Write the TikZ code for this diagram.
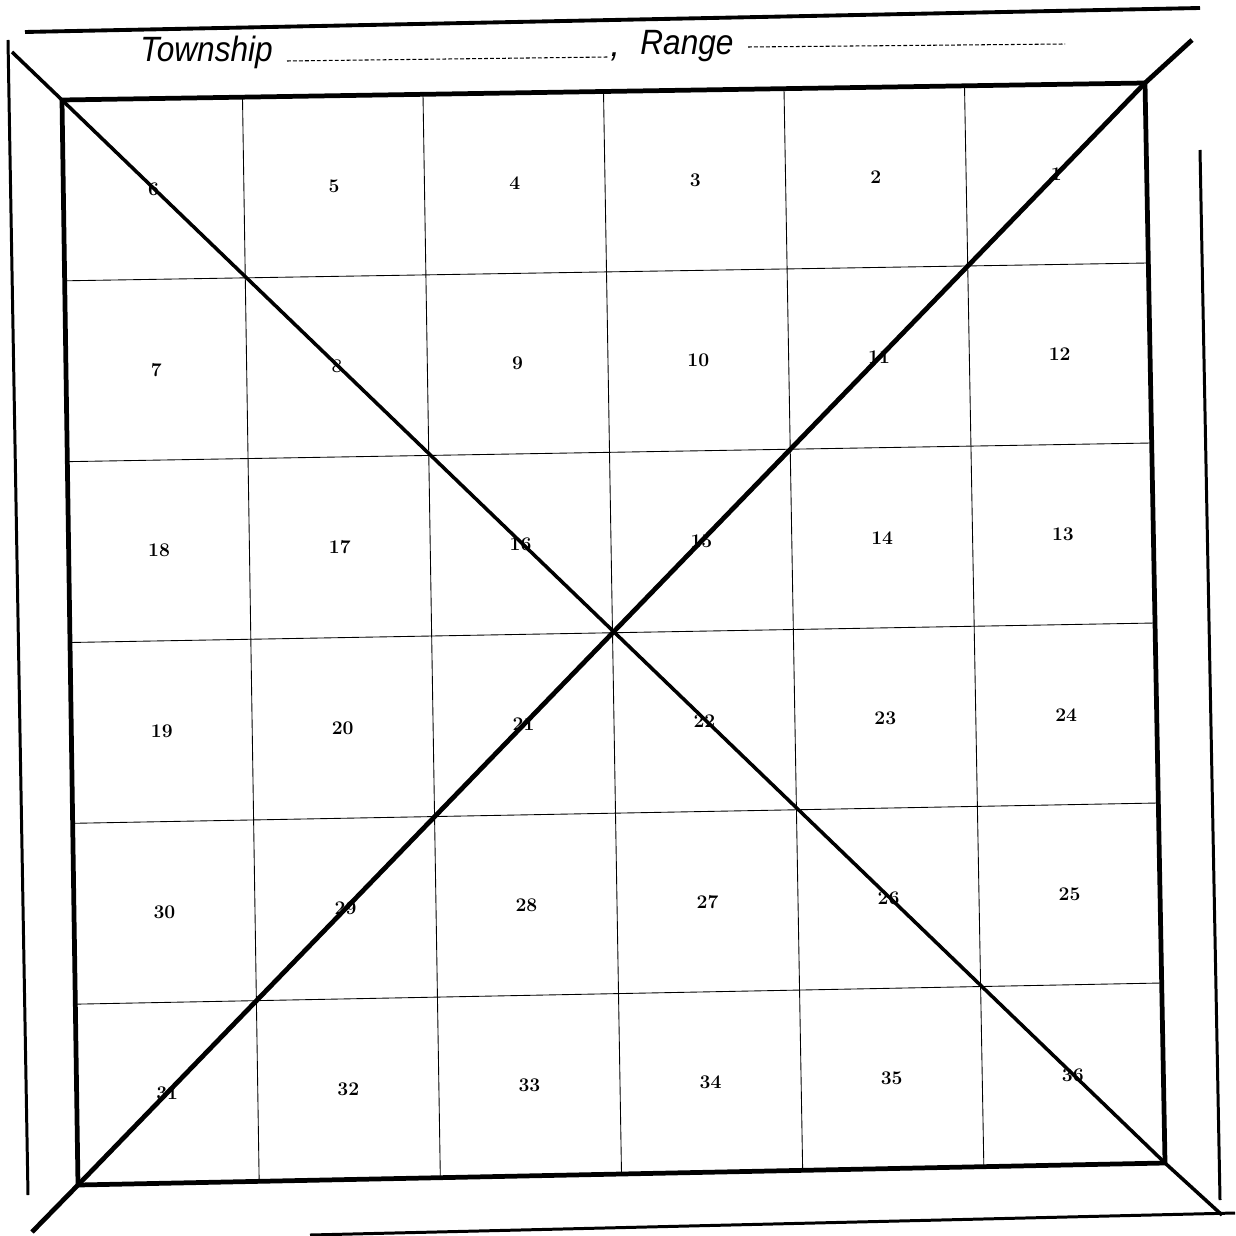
\documentclass[tikz,border=0pt]{standalone}
\usepackage{graphicx}
\usepackage{fontspec}
\usepackage{tikz}
\usetikzlibrary{calc}
\newfontfamily\headfont{Liberation Sans}

\tikzset{
  frame/.style={line width=2.7pt, line join=round},
  outer/.style={line width=1.7pt},
  gridline/.style={line width=0.5pt},
  diag/.style={line width=2.0pt, line join=round},
  heavydiag/.style={line width=2.7pt, line join=round},
  blank/.style={line width=0.6pt, dash pattern=on 2.2pt off 1.2pt},
  head/.style={font=\headfont\itshape\fontsize{20}{22}\selectfont, inner sep=0pt, anchor=base west},
  secnum/.style={font=\bfseries\fontsize{11}{13}\selectfont, inner sep=0pt},
}

\begin{document}
\begin{tikzpicture}[x=0.02cm, y=-0.02cm]
  \useasboundingbox (0,0) rectangle (1235,1236);
  % corners of the township square
  \coordinate (TL) at (62,100);
  \coordinate (TR) at (1145,83);
  \coordinate (BR) at (1165,1163);
  \coordinate (BL) at (78,1185);
  % heading
  \node[head] (twp) at (140,62) {\scalebox{0.9}[1]{Township}};
  \draw[blank] (287,61) -- (608,57);
  \node[head] (comma) at (610,57) {,};
  \node[head] (rng) at (640,55) {\scalebox{0.9}[1]{Range}};
  \draw[blank] (748,47) -- (1065,44);
  % outer border lines
  \draw[outer, line width=2.2pt] (25,32) -- (1200,8);
  \draw[outer] (8,40) -- (28,1195);
  \draw[outer] (1200,150) -- (1220,1200);
  \draw[outer] (310,1235) -- (1235,1213);
  % section lines
  \foreach \i in {1,...,5} {
    \draw[gridline] ($(TL)!\i/6!(TR)$) -- ($(BL)!\i/6!(BR)$);
    \draw[gridline] ($(TL)!\i/6!(BL)$) -- ($(TR)!\i/6!(BR)$);
  }
  % section numbers
  \foreach \r in {0,...,5} {
    \foreach \c in {0,...,5} {
      \pgfmathtruncatemacro\n{isodd(\r) ? 6*\r+1+\c : 6*\r+6-\c}
      \pgfmathsetmacro\u{(\c+0.5)/6}
      \pgfmathsetmacro\v{(\r+0.5)/6}
      \coordinate (top) at ($(TL)!\u!(TR)$);
      \coordinate (bot) at ($(BL)!\u!(BR)$);
      \node[secnum] (s\n) at ($(top)!\v!(bot)$) {\n};
    }
  }
  % township square
  \draw[frame] (TL) -- (TR) -- (BR) -- (BL) -- cycle;
  % diagonals
  \coordinate (d1) at (12,52);
  \coordinate (d2) at (1222,1215);
  \coordinate (d3) at (32,1232);
  \coordinate (d4) at (1192,40);
  \draw[diag] (d1) -- (TL) -- (BR) -- (d2);
  \draw[heavydiag] (d3) -- (BL) -- (TR) -- (d4);
\end{tikzpicture}
\end{document}
